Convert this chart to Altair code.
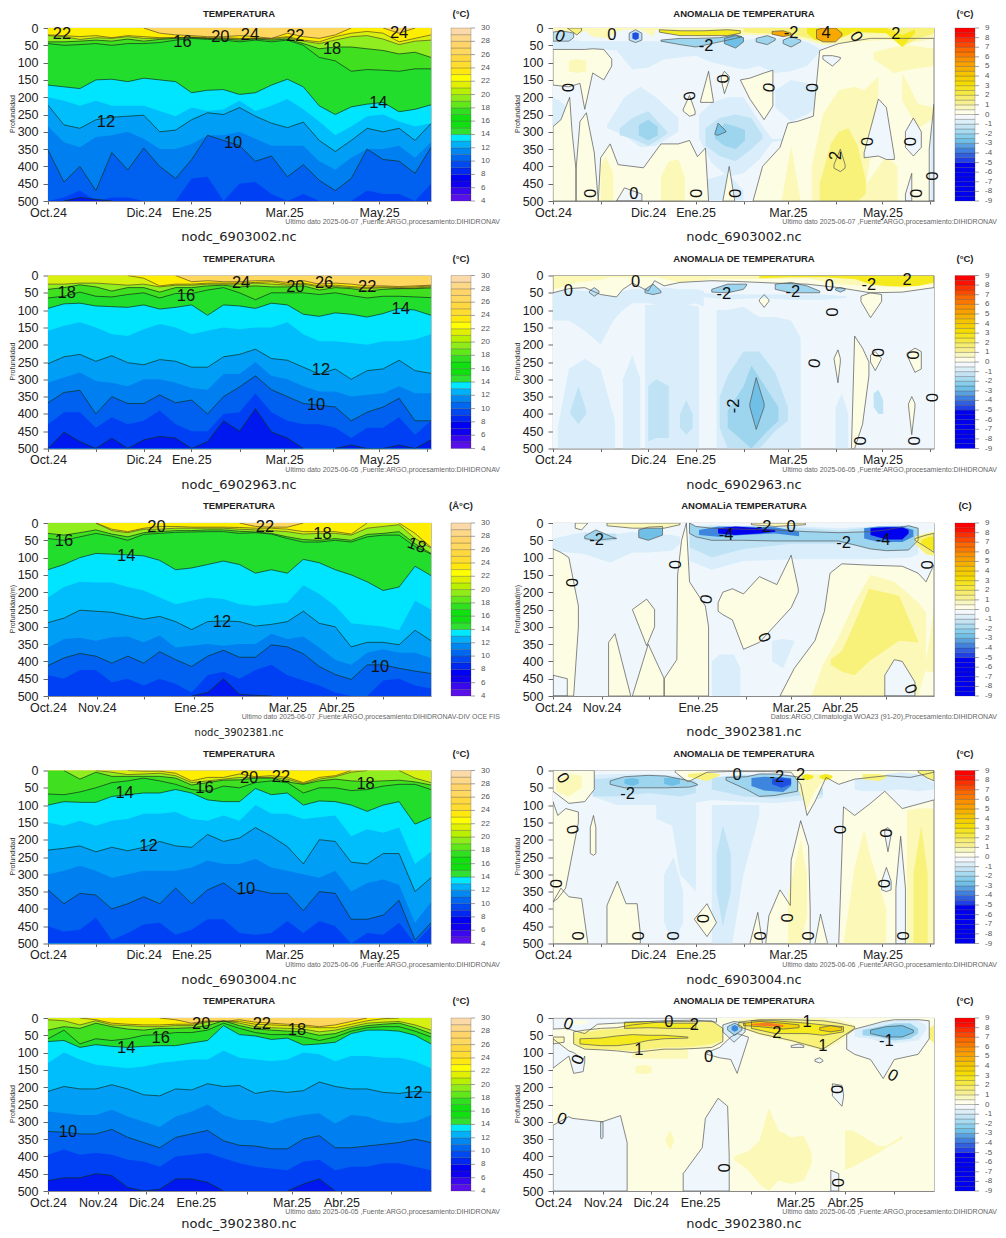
import altair as alt
import pandas as pd

FONT = "Liberation Sans"
KS = list(range(25))

# --- temperature panels: isotherm depth (m) at 25 time steps (1 step = 10 days)
LEVELS = [24, 22, 20, 18, 16, 14, 13, 12, 11, 10, 9, 8]
LEVEL_COLOR = ["#ffee00", "#d8f010", "#90ee20", "#40e020", "#22dd2c", "#00e5ff",
               "#00bdfb", "#009ef5", "#0080f0", "#0060f0", "#0040f5", "#0018f0"]
BASE_WARM = "#ffd75e"
CONTOURS = [24, 22, 20, 18, 16, 14, 12, 10, 8]

P1_ISO = [
 [0,0,0,0,0,0,0,15,20,22,25,25,22,25,30,15,25,30,20,0,0,0,15,0,0],
 [20,22,25,22,28,22,25,28,28,26,28,28,30,30,30,25,35,40,25,15,10,15,40,30,20],
 [22,25,33,28,30,25,30,30,28,27,30,30,32,30,32,28,38,45,35,25,22,32,48,38,35],
 [40,40,38,35,38,32,38,33,30,28,30,32,35,32,35,32,45,60,55,55,60,65,75,70,85],
 [45,50,48,45,50,45,45,42,35,30,33,35,40,35,40,35,50,85,95,125,120,122,125,118,118],
 [165,170,175,150,148,155,145,150,155,187,180,178,192,187,165,148,170,225,250,228,220,215,242,235,222],
 [200,210,225,210,225,225,225,240,255,230,240,235,210,240,225,205,235,270,310,285,255,250,270,285,275],
 [223,280,290,265,258,255,252,300,295,265,245,250,230,255,275,288,272,325,357,325,290,300,290,325,276],
 [285,330,345,315,310,300,320,350,350,335,310,310,300,320,340,340,340,385,410,375,350,350,340,375,330],
 [353,445,400,470,360,410,347,400,435,380,310,325,340,385,370,430,395,440,470,435,350,380,385,420,345],
 [500,490,470,500,490,490,500,500,500,435,430,500,450,445,480,500,480,500,500,500,470,480,480,500,450],
 [500,500,490,495,500,500,500,500,500,500,500,500,500,500,500,500,500,500,500,500,500,500,500,500,500],
]
P2_ISO = [
 [0,0,0,0,0,0,0,0,0,18,15,18,18,15,15,20,15,25,22,25,30,30,32,30,28],
 [0,0,0,0,0,0,8,30,25,25,22,22,22,20,18,25,22,30,28,32,35,33,35,33,30],
 [25,25,22,22,25,28,25,33,28,28,25,25,25,22,25,28,25,33,32,35,38,35,38,36,33],
 [40,35,27,33,45,35,35,48,35,35,30,28,33,30,33,33,30,42,35,38,45,40,38,38,36],
 [65,60,48,60,62,55,50,65,52,52,42,35,50,70,50,50,50,55,50,58,65,60,60,62,64],
 [95,82,80,88,90,92,85,97,92,85,115,85,88,95,80,85,112,118,108,112,120,110,95,100,115],
 [160,145,135,150,170,175,155,140,150,170,160,150,155,150,150,135,170,190,190,195,200,190,190,185,170],
 [255,235,228,248,232,252,258,243,248,265,265,235,228,213,240,245,265,285,270,300,275,270,245,275,283],
 [310,295,280,305,310,320,300,300,310,325,330,285,285,250,290,300,320,335,335,350,345,340,320,340,340],
 [368,338,332,400,350,370,370,345,368,360,400,350,322,290,330,350,370,375,380,420,395,380,355,420,420],
 [430,395,395,440,410,430,420,390,430,450,450,400,395,340,395,420,430,430,440,470,440,440,410,460,420],
 [500,453,480,500,470,500,475,465,470,500,480,420,450,385,452,470,500,500,500,490,500,500,490,500,475],
]
P3_ISO = [
 [0,0,0,0,0,0,0,0,0,0,0,0,0,10,12,12,0,0,0,0,0,0,0,0,0],
 [0,0,0,0,18,25,15,10,10,12,12,12,13,15,15,18,25,25,25,32,0,0,0,30,70],
 [0,0,0,0,22,28,18,18,15,15,15,15,18,20,22,25,32,30,30,35,15,10,5,45,72],
 [30,35,28,20,32,40,28,25,22,22,20,20,24,26,30,40,48,50,45,50,33,30,25,60,88],
 [45,50,40,30,38,50,33,30,27,26,25,25,30,28,32,45,55,55,50,55,40,35,35,68,90],
 [135,120,100,88,90,92,95,108,135,130,120,110,120,145,135,145,105,115,135,150,170,195,185,125,152],
 [215,185,170,172,172,185,195,215,235,225,215,220,235,240,235,230,180,205,240,290,295,300,310,225,250],
 [288,275,252,255,258,268,278,270,285,308,285,283,285,298,293,285,255,290,300,358,345,345,352,310,340],
 [360,335,332,340,330,328,345,325,360,355,350,355,350,350,320,335,328,360,395,410,375,365,375,375,390],
 [412,390,377,385,405,385,405,372,395,415,385,368,388,388,352,358,378,415,438,452,410,410,420,428,435],
 [440,450,425,425,460,450,470,450,465,490,440,430,450,425,410,440,455,470,490,500,500,455,450,470,478],
 [500,500,500,500,500,500,500,500,500,500,490,450,495,498,500,500,500,500,500,500,500,500,500,500,500],
]
P4_ISO = [
 [0,0,0,0,0,0,0,0,0,0,0,0,0,0,0,0,0,0,0,0,0,0,0,0,0],
 [0,0,0,0,0,0,2,2,8,30,20,20,10,18,15,20,35,20,15,0,0,0,0,0,0],
 [0,0,0,0,5,12,10,8,15,35,30,25,20,20,20,25,38,25,18,5,0,0,0,22,35],
 [0,0,25,5,17,17,17,17,22,42,35,28,27,22,22,33,40,30,25,30,32,30,28,33,42],
 [68,70,62,50,35,30,22,30,40,55,60,45,50,35,30,35,65,50,50,58,55,45,40,40,55],
 [100,90,92,92,75,70,65,65,55,65,85,90,90,52,70,65,100,88,90,100,118,100,90,155,135],
 [150,160,145,160,145,140,125,125,120,140,145,130,145,100,125,125,140,135,130,190,170,180,165,270,235],
 [230,225,218,235,222,232,222,205,218,222,185,205,195,165,190,220,270,200,205,265,270,240,240,350,310],
 [300,290,275,290,310,300,290,290,290,280,260,270,270,255,280,290,300,310,290,350,325,315,330,440,380],
 [345,385,355,360,400,385,365,385,340,385,345,325,358,345,355,355,405,350,355,430,430,418,375,490,440],
 [450,465,460,425,490,470,445,440,475,460,430,430,470,475,470,435,470,435,450,500,470,475,440,500,450],
 [500,500,500,500,500,500,500,500,500,500,500,500,500,500,500,500,500,500,500,500,500,500,500,500,500],
]
P5_ISO = [
 [0,0,0,0,0,0,0,0,5,15,8,10,5,12,15,18,20,25,20,10,0,0,0,0,0],
 [0,0,0,5,15,18,20,20,18,18,10,10,10,18,20,22,25,28,28,18,8,2,0,0,0],
 [5,8,20,8,20,22,25,25,22,22,12,8,15,25,28,30,32,40,35,25,15,12,10,20,35],
 [35,25,30,15,25,32,35,30,30,28,22,8,22,32,35,38,40,50,45,30,22,18,15,28,45],
 [60,35,75,60,65,60,50,48,42,42,35,15,30,42,48,48,55,65,55,38,28,25,25,38,55],
 [68,65,85,77,82,85,82,80,80,72,65,22,48,52,62,58,78,75,70,45,35,35,38,50,75],
 [130,100,120,135,140,145,140,130,125,120,120,95,115,120,125,120,100,105,125,110,110,115,115,125,145],
 [212,198,205,205,193,205,222,225,205,208,190,198,195,218,210,215,210,185,198,205,205,215,218,212,215],
 [270,275,280,280,265,285,300,315,285,270,250,280,295,295,305,290,280,275,305,280,285,300,305,300,280],
 [328,330,335,335,322,345,360,375,345,335,325,355,368,370,378,378,350,340,375,375,370,365,360,350,360],
 [395,380,395,390,395,410,415,430,400,395,390,405,420,430,435,440,415,410,440,430,430,420,420,430,440],
 [470,462,462,450,455,490,500,495,465,465,475,500,500,500,500,500,480,465,500,500,500,500,500,500,500],
]

# contour labels: text, time step, depth, angle
P1_LAB = [("22",.88,16,0),("16",8.43,40,0),("20",10.8,26,0),("24",12.65,21,0),("22",15.5,24,0),("18",17.8,60,0),("24",22,15,0),("14",20.7,216,0),("12",3.63,271,0),("10",11.6,332,0)]
P2_LAB = [("18",1.17,52,0),("24",12.1,21,0),("16",8.64,60,0),("20",15.5,33,0),("26",17.3,23,0),("22",20,33,0),("14",22.1,98,0),("12",17.1,273,0),("10",16.8,374,0)]
P3_LAB = [("16",1,51,0),("20",6.8,12,0),("22",13.6,12,0),("18",17.2,33,0),("18",23.1,65,20),("14",4.9,95,0),("12",10.9,285,0),("10",20.8,416,0)]
P4_LAB = [("20",12.6,23,0),("22",14.6,19,0),("16",9.8,50,0),("14",4.8,65,0),("18",19.9,38,0),("12",6.3,218,0),("10",12.4,343,0)]
P5_LAB = [("20",9.6,16,0),("22",13.4,16,0),("18",15.6,34,0),("16",7.06,58,0),("14",4.9,86,0),("12",22.9,218,0),("10",1.25,329,0)]

# tick steps and labels
TICKS_A = [0,3.03,6,8.98,12,14.8,17.85,20.75,23.75]
TLAB_A = ["Oct.24","","Dic.24","Ene.25","","Mar.25","","May.25",""]
TICKS_B = [0,3.06,6.03,9.12,12.18,15,18.06,21]
TLAB_B = ["Oct.24","Nov.24","","Ene.25","","Mar.25","Abr.25",""]
TICKS_C = [0,3.12,6.15,9.27,12.45,15.27,18.39,21.48]
TLAB_C = ["Oct.24","Nov.24","Dic.24","Ene.25","","Mar.25","Abr.25",""]

# anomaly colours
AC = dict(w="#eff7fd", n1="#d9eefa", n2="#bfe3f5", n3="#9dd5ef", n4="#6fbfe6", n5="#3d85dd",
          n6="#1e4fe0", n7="#0000f0", p0="#fdfde3", p1="#fbf8b8", p2="#f8f27a", p3="#f5ea1e",
          p4="#f5d000", p5="#f8a800", p6="#f57a20")

# anomaly patches: colour key, time steps, upper depth, lower depth, outlined
R1_B = [
 ("w",[0,24],[0,0],[500,500],0),
 ("n1",[0,.8,1.2,2,3,4,5,6,7,8,9,10,11,12,13,14,15,16,16.8],[30,30,35,38,38,38,38,38,38,38,35,35,35,35,30,30,30,40,60],[60,60,60,60,62,65,120,115,90,85,80,100,110,120,110,130,125,110,70],0),
 ("n1",[0,.4,.9],[200,210,230],[320,340,300],0),
 ("n1",[3.4,4.5,5.5,6.5,7.9],[280,200,170,200,260],[290,310,345,340,300],0),
 ("n2",[4.2,5,6,6.6,7.2],[290,260,240,270,300],[310,320,340,325,305],0),
 ("n3",[5.4,6,6.6],[280,265,285],[310,325,310],0),
 ("n1",[9.2,10,11,12,13,13.8,14.5],[250,215,200,200,270,320,320],[320,390,430,420,380,330,325],0),
 ("n2",[9.6,10.5,11.5,12.5,13.2],[290,260,250,260,310],[340,370,385,350,320],0),
 ("n3",[10.2,10.8,11.5,12.1],[310,275,285,295],[320,340,350,325],0),
 ("n4",[10.2,10.4,10.9],[305,275,298],[308,310,300],1),
 ("n1",[14,15,16,16.6],[180,150,160,170],[230,270,250,230],0),
 ("n1",[9.6,10.3,11,12],[440,430,420,470],[500,500,500,500],0),
 ("p0",[0,1,1.7,2,2.5,3.2,3.7],[62,62,62,62,60,62,90],[165,170,160,235,130,150,110],1),
 ("p1",[1,1.5,2.1],[95,90,95],[125,130,125],0),
 ("p0",[0,.5,1.05,1.2,1.45],[285,265,200,300,410],[500,500,500,500,500],1),
 ("p0",[1.45,1.7,2.1,2.6,2.85],[410,270,245,360,500],[500,500,500,500,500],1),
 ("p0",[2.85,3,3.6,4.1,5.7,6.8,7.9,8.6,9.1,9.6,9.8],[500,375,335,395,404,335,335,325,372,347,500],[500,500,500,500,500,500,500,500,500,500,500],1),
 ("w",[4,4.5,5.6],[500,462,480],[500,500,500],1),
 ("p1",[3,3.3,3.8],[400,370,420],[500,500,500],0),
 ("p1",[6.8,7.3,7.9,8.3],[430,385,380,430],[500,500,500,500],0),
 ("p0",[10.7,11.1,11.45],[500,400,500],[500,500,500],1),
 ("p0",[9.3,9.8,10.1],[210,125,210],[215,215,215],1),
 ("p0",[10.6,10.8,11.1],[140,125,140],[150,190,150],1),
 ("p0",[11.8,12.4,13.3,13.85],[150,145,130,122],[150,205,265,225],1),
 ("p0",[8.2,8.6,8.95],[235,195,240],[240,255,250],1),
 ("p0",[12.6,13.2,14.3,14.8,15.4,16.4,16.8,18,20,22,24],[500,400,345,275,270,255,65,45,30,30,30],[500,500,500,500,500,500,500,500,500,500,500],1),
 ("p1",[14.4,15,15.6],[500,340,500],[500,500,500],0),
 ("p1",[16.3,17,18,19,19.6,20.5],[400,250,180,170,180,140],[500,500,500,500,500,190],0),
 ("p1",[20.2,21.5,22.5,24],[70,55,50,60],[90,130,120,110],0),
 ("p1",[22,23,24],[130,220,230],[210,290,260],0),
 ("p1",[19.6,21,21.7],[460,370,400],[500,500,500],0),
 ("p2",[16.8,17.5,18,18.6,19.2,19.7],[450,335,300,290,340,440],[500,500,500,500,500,480],0),
 ("p2",[17.7,18.1,18.4],[395,350,395],[405,415,405],1),
 ("w",[19.6,20.5,21,21.5],[360,205,230,370],[375,370,380,380],1),
 ("w",[22.2,22.7,23.2],[300,260,300],[345,370,345],1),
 ("w",[17,17.6,18.1],[80,80,85],[90,110,90],1),
 ("w",[22.2,22.6],[480,420],[500,500],1),
 ("w",[23.7,24],[350,220],[500,500],1),
 ("n1",[23.8,24],[300,270],[500,500],0),
 ("p1",[0,1,1.7,2,2.5,3.5,4,4.5,5.5,6.3,6.5,7,9,12,14,16,17,19,21,23,24],[0]*21,[8,12,15,8,25,30,10,5,5,25,5,15,25,20,20,35,50,40,35,40,30],0),
 ("p2",[.9,1.5,1.8],[0,0,0],[0,20,8],1),
 ("p3",[6.7,8,9.5,11,11.8],[5,8,8,5,8],[12,22,22,22,15],1),
 ("p2",[12,13,15,16,17,17.5,18,19,20,21,22,23,24],[0]*13,[12,15,18,28,40,45,30,15,15,15,55,30,15],0),
 ("p3",[16,16.5,17.5,18.3,19,21,22,22.8],[0,0,0,0,0,0,20,5],[15,35,40,25,10,15,55,15],0),
 ("p5",[13.8,14.5,15],[10,8,15],[18,25,20],1),
 ("p5",[16.6,17,17.8,18.2],[5,0,0,15],[30,40,40,22],1),
 ("n2",[0,.5,1,1.3],[12,8,12,15],[38,38,38,28],1),
 ("n2",[4.8,5.2,5.6],[15,5,15],[35,42,35],1),
 ("n6",[5,5.2,5.4],[15,12,15],[30,35,30],0),
 ("n3",[6.8,8,9,10.5,11.5,11.9],[35,30,30,28,20,25],[38,48,55,40,30,25],1),
 ("n4",[10.8,11.5,12],[30,22,28],[45,58,40],1),
 ("n3",[12.8,13.5,14],[30,22,30],[40,48,35],1),
 ("n3",[14.5,15,15.6],[35,25,35],[45,55,40],1),
]
R2_B = [
 ("w",[0,24],[0,0],[500,500],0),
 ("n1",[0,1,2,3,3.8,4.4,5,6,7,8,9,9.5],[30,40,45,40,45,45,40,40,35,40,40,45],[130,130,160,200,130,100,80,80,90,90,80,90],0),
 ("n1",[.3,1,2,3,3.9],[440,270,240,270,420],[500,500,500,500,500],0),
 ("n1",[4.4,5,5.5],[300,230,300],[500,500,500],0),
 ("n1",[5.8,6.5,7.5,8.5,9.2],[85,85,85,85,90],[500,500,500,500,500],0),
 ("n2",[1.1,1.6,2.1],[390,320,390],[400,430,400],0),
 ("n2",[6,6.5,7.3],[320,300,320],[480,470,470],0),
 ("n2",[8,8.4,8.8],[400,360,400],[440,460,440],0),
 ("n1",[10.3,11,12,13,14,15,15.6],[100,100,90,120,120,130,180],[500,500,500,500,500,500,500],0),
 ("n2",[10.5,11,12,13,14,14.8],[350,290,220,220,280,380],[440,500,500,500,450,420],0),
 ("n3",[11,12,12.5,13.5,14.2],[390,320,260,330,380],[440,480,500,450,420],0),
 ("n4",[12.4,12.8,13.3],[370,295,370],[380,445,380],1),
 ("n1",[17.8,18.2,18.6],[380,340,400],[500,500,500],0),
 ("n2",[20.2,20.5,20.8],[340,330,360],[380,400,400],0),
 ("p0",[18.8,19,19.5,19.9],[500,175,210,250],[500,500,430,290],1),
 ("p0",[17.7,17.95,18.1],[240,215,240],[240,310,250],1),
 ("p0",[20,20.3,20.7],[230,220,240],[250,275,240],1),
 ("p0",[22.3,22.8,23.2],[225,210,220],[230,280,270],1),
 ("p0",[22.4,22.6,22.8],[370,350,370],[380,460,380],1),
 ("p0",[13,13.3,13.6],[70,55,70],[75,92,75],1),
 ("p0",[19.4,20,20.7],[60,50,55],[75,122,75],1),
 ("p0",[0,1,2,3,4,4.4,5,6,6.4,7,8,10,12,14,16,18,20,22,24],[0]*19,[50,38,35,55,62,40,22,45,15,30,20,15,18,22,25,35,50,48,35],1),
 ("p1",[0,1.5,3,3.6,6.6,8,10,12,14,16,18,20,22,24],[0]*14,[40,20,12,5,5,20,10,10,10,8,25,30,35,25],0),
 ("p3",[13,15,17,19,20,21,22,23,24],[0]*9,[8,5,5,10,25,30,32,30,20],0),
 ("n2",[2.3,2.6,2.9],[45,35,45],[50,60,50],1),
 ("n3",[5.8,6.3,6.8],[40,25,45],[50,55,50],1),
 ("n3",[10,11,12,12.2],[40,25,25,25],[48,50,40,28],1),
 ("n3",[14,15,16,16.8],[25,20,30,45],[40,50,50,50],1),
 ("n3",[17.8,18.1,18.4],[38,35,38],[42,48,42],1),
 ("n1",[8,9,11,13,15,17,18.5],[50,50,55,55,55,55,60],[60,60,70,65,70,70,65],0),
]
R3_B = [
 ("w",[0,24],[0,0],[500,500],0),
 ("n1",[0,2,3.6,5,6,7.5,8],[45,25,35,25,30,35,40],[80,90,115,85,85,80,60],0),
 ("n1",[8.6,10,12,15,18,20,22.5,23],[10,5,10,8,15,10,5,25],[110,135,110,105,105,105,100,90],0),
 ("n2",[8.6,10,12,15,18,20,22.5],[15,10,15,12,22,12,8],[70,100,75,60,60,70,78],0),
 ("n2",[2,3,4],[30,30,30],[50,55,50],0),
 ("n3",[2,2.7,3.7,4],[38,20,40,45],[45,50,45,45],1),
 ("n4",[5.4,6,6.9],[20,12,10],[42,50,35],1),
 ("n3",[8.6,9,10,12,14,16,18,20,21,22.4,23],[0,10,15,18,20,25,28,25,20,8,15],[30,40,50,50,52,52,52,75,80,78,50],1),
 ("n5",[9.2,10.4,12,14,15.5],[20,10,10,12,25],[35,40,35,30,38],0),
 ("n7",[10.4,11.5,13,14],[15,10,15,20],[30,35,30,25],0),
 ("n5",[19.6,20.5,22,22.7],[15,10,10,20],[45,55,55,40],0),
 ("n7",[20,21,22,22.4],[15,12,12,20],[35,48,48,30],0),
 ("p0",[1.4,1.8,2.2],[0,0,0],[15,20,0],1),
 ("p1",[3.4,5,7,8],[0,0,0,0],[8,15,15,5],1),
 ("p1",[12.5,14,15.9],[0,0,0],[5,10,5],1),
 ("p0",[0,.5,1,1.3,1.6],[75,85,100,170,240],[500,500,500,500,300],1),
 ("w",[0,.9],[440,450],[500,500],1),
 ("p0",[3.5,3.9,4.9],[345,320,500],[500,500,500],1),
 ("p0",[5,5.9,6.4],[250,220,250],[250,355,300],1),
 ("p0",[5,6,7],[500,350,450],[500,500,500],1),
 ("p0",[7,7.8,7.85,8.1,8.4,8.6,9.6,9.8],[450,395,150,50,0,170,240,300],[500,500,500,500,500,500,500,500],1),
 ("p0",[10.4,10.7,11.3,12,13,14.1,15,15.45],[230,200,190,205,155,178,93,190],[255,265,280,365,345,290,245,200],1),
 ("p0",[14.3,15.2,16.5,17.1,17.45,18.2,20,22,23,23.5,24],[500,420,340,255,145,118,122,125,145,170,120],[500,500,500,500,500,500,500,500,500,500,500],1),
 ("p1",[16.3,17,18,19,20,21.5,23,23.5],[500,410,330,230,150,170,230,260],[500,500,500,500,500,500,500,420],0),
 ("p2",[17.5,18.2,19,19.9,21.8,23],[395,370,290,190,210,340],[410,430,440,400,340,345],0),
 ("p1",[23.5,24],[400,250],[430,430],0),
 ("w",[20.9,21.5,22,22.8],[440,395,400,460],[500,500,500,500],1),
 ("n1",[10,10.5,11.4,11.8],[400,380,380,420],[500,500,500,500],0),
 ("n1",[13.8,14.5,15.2],[340,335,340],[400,420,345],0),
 ("p3",[22.8,23.5,24],[45,35,30],[50,70,85],1),
 ("p2",[22.8,23.5,24],[40,30,25],[60,90,95],0),
 ("p3",[23.2,23.7,24],[50,40,40],[60,75,80],0),
]
R4_B = [
 ("w",[0,24],[0,0],[500,500],0),
 ("n1",[2.5,4,6,8,10,12,14,16,17],[12,10,10,15,25,15,15,45,60],[75,100,100,100,85,90,95,85,80],0),
 ("n1",[6.5,7.5,8,9],[90,90,90,90],[140,160,300,350],0),
 ("n1",[10,10.5,11.3,12,13],[100,100,100,100,100],[500,500,500,300,130],0),
 ("n2",[10.3,10.7,11.2],[240,160,240],[350,450,350],0),
 ("n1",[7,7.6,8.2],[300,250,350],[440,500,440],0),
 ("n2",[2.5,4,6,8,9],[25,20,20,20,30],[75,75,65,75,65],0),
 ("n3",[3.6,4.5,6,7.1,8.6,9.1],[30,18,14,16,30,40],[40,50,50,50,48,42],1),
 ("n4",[4.5,5,5.4],[25,22,25],[38,45,38],0),
 ("n4",[7,7.5,8],[22,20,25],[38,45,38],0),
 ("n2",[10,12,14,16,17],[20,12,15,20,50],[55,75,80,70,70],0),
 ("n3",[10.9,12.2,13,14,15.4],[20,18,10,10,18],[28,55,75,72,60],1),
 ("n5",[12.5,13.3,14.5,15],[22,18,20,22],[45,58,62,45],0),
 ("n6",[13.8,14.4,15],[25,20,25],[40,50,40],0),
 ("n1",[19,19.5,20.5,22,23,24],[10,5,5,5,20,35],[55,60,60,55,60,55],0),
 ("p0",[0,1,2,2.6],[0,0,0,0],[60,95,90,55],1),
 ("p1",[.2,1,1.8],[30,10,15],[60,75,50],0),
 ("p0",[0,.3,.8,1.6],[90,130,110,120],[380,370,340,150],1),
 ("p0",[0,.5,1,1.8,2.2],[380,340,365,370,500],[500,500,500,500,500],1),
 ("p0",[2.35,2.55,2.7],[165,130,165],[240,245,240],1),
 ("p0",[3.4,4.05,4.6,5.3,5.5],[390,320,385,385,470],[500,500,500,500,500],1),
 ("p0",[8.9,9.7,10.3],[430,385,440],[430,480,440],1),
 ("p0",[12.4,12.9,13.2],[500,410,500],[500,500,500],1),
 ("p0",[13.4,13.6,14.3,14.95,15,15.6,16.1,16.2],[500,420,345,390,260,145,220,400],[500,500,500,500,500,500,500,500],1),
 ("p1",[14.8,15.6,16],[360,200,300],[500,500,420],0),
 ("p0",[16.5,16.85,17.3],[500,415,500],[500,500,500],1),
 ("p0",[7.7,8.5,9.7,11,13.5,15,15.6,16,16.5,17.2,18,19,20,21,22.5,24],[0]*16,[5,33,5,3,3,5,40,130,90,20,40,25,20,15,20,5],1),
 ("p2",[8.5,9.7,10.5],[10,5,10],[18,30,15],0),
 ("p1",[15.5,16,16.5,17.2],[5,10,10,10],[60,110,60,20],0),
 ("p0",[18,18.3,19,20,20.9,22,24],[500,105,130,95,60,110,85],[500,500,500,500,500,500,500],1),
 ("p1",[18.3,19,19.6,20,21],[500,280,170,250,400],[500,500,500,500,500],0),
 ("w",[20.9,21.1,21.3],[170,165,175],[185,235,185],1),
 ("w",[20.7,21,21.3],[320,280,320],[345,350,345],1),
 ("w",[21.6,21.9,22.2],[340,190,340],[500,500,500],1),
 ("p1",[22.3,23,24],[115,110,110],[500,500,500],0),
 ("p2",[22.7,23.2,23.6],[300,160,300],[500,500,500],0),
 ("p3",[15.7,16,16.4],[15,10,15],[22,28,22],0),
 ("p3",[16.8,17.2,17.6],[15,10,15],[22,28,22],0),
 ("p2",[19.5,20.5,21],[10,10,15],[25,30,22],0),
 ("p2",[23,23.6,24],[0,0,0],[5,22,30],1),
 ("n1",[21,22,23,23.6],[10,5,10,22],[60,40,30,35],0),
]
R5_B = [
 ("p0",[0,24],[0,0],[500,500],0),
 ("w",[0,1,1.2,3.1,4.25,4.67],[310,285,290,300,282,360],[500,500,500,500,500,500],1),
 ("n1",[3,3.05,3.15],[300,300,300],[345,350,345],1),
 ("w",[8.2,9.4,9.6,10.4,11,11.1],[450,375,290,232,255,400],[500,500,500,500,500,500],1),
 ("p1",[11.4,12.3,13,13.6,14.2,15,15.8,16.3],[400,385,355,260,325,345,340,390],[410,440,480,500,470,480,470,420],0),
 ("p1",[18.4,18.9,20.5,21,22],[325,325,370,370,340],[440,430,390,375,350],0),
 ("p1",[7.1,7.4,7.6],[350,325,350],[360,380,360],0),
 ("p1",[5.2,5.7,6.2],[140,135,140],[160,162,160],0),
 ("p1",[5,6,7.5,8.5],[85,85,85,85],[115,118,118,118],0),
 ("w",[0,1,1.3,1.9,2],[60,95,100,120,110],[145,110,160,155,125],1),
 ("w",[0,.8,2,2.8,4,6,7,9,10.3],[0,0,0,0,0,0,0,0,0],[32,30,45,18,15,10,8,6,12],1),
 ("p0",[.9,1.3,2.2],[8,5,8],[18,20,18],0),
 ("w",[9.7,10.5,11.2,11.6,12.3],[100,85,55,45,55],[105,115,120,160,60],1),
 ("n1",[10.7,11.4,12.1],[20,10,15],[40,70,40],1),
 ("n3",[11,11.45,11.9],[25,15,25],[35,50,35],1),
 ("n5",[11.25,11.45,11.65],[25,20,25],[35,40,35],0),
 ("w",[18.5,19,20,20.8,21.5,23,23.7],[48,32,20,10,5,5,8],[90,105,120,175,120,105,60],1),
 ("n1",[19,20,21,22,23,23.5],[35,20,10,5,8,20],[55,60,75,70,65,35],0),
 ("n3",[19.5,20.5,21.5,22.5,23],[35,25,15,15,30],[50,55,65,60,45],0),
 ("n4",[20,21,22,22.7],[35,25,22,35],[45,55,55,42],1),
 ("w",[17.6,18.2,18.3],[190,195,220],[225,255,230],1),
 ("w",[17.5,18],[440,450],[500,500],1),
 ("w",[15,15.5,15.8],[80,75,80],[85,85,85],1),
 ("w",[16.5,16.8,17],[120,115,122],[125,130,125],1),
 ("p1",[0,.7],[55,55],[75,70],1),
 ("p1",[1.3,2,3,4,5,6,7,8,9,10,10.7],[40,35,30,28,20,15,10,10,10,8,30],[75,90,92,95,100,95,90,90,88,85,68],1),
 ("p2",[1.3,2,3,4,5,6,7,8,9,10,10.7],[45,42,35,32,28,20,15,12,12,10,30],[72,88,90,92,95,90,85,85,82,75,65],0),
 ("p3",[1.7,3,4,5,6,7,8.5],[60,58,52,48,50,50,55],[75,80,80,75,65,60,58],1),
 ("p3",[4.5,6,7.5,9],[12,10,15,15],[30,28,30,30],1),
 ("p1",[11.7,13,15,17,18,19],[5,0,0,0,5,20],[25,50,70,95,70,35],0),
 ("p2",[11.7,13,15,17,18,19],[12,5,5,8,15,25],[25,45,65,90,60,30],1),
 ("p3",[12.5,14,16,17,18.3],[8,8,15,20,25],[30,45,45,50,40],1),
 ("p4",[12,13,14.5,15.5],[15,10,15,20],[22,25,32,28],1),
 ("p6",[12.5,13.5,14.5],[17,13,20],[20,24,26],0),
 ("p4",[16.8,17.5,18.2],[28,22,28],[35,40,35],1),
 ("p2",[23.7,24],[30,20],[60,72],0),
]

R1_LAB = [("0",.45,24,20),("0",3.7,20,0),("-2",9.65,53,0),("-2",15,14,0),("4",17.2,14,0),("2",21.6,16,0),("0",19.1,25,60),("0",.88,172,90),("0",8.55,197,80),("0",10.65,147,85),("0",13.55,172,100),("0",16.25,172,90),("0",2.28,478,90),("0",8.95,478,90),("0",11.4,478,90),("0",5.1,480,0),("0",19.7,328,90),("0",22.4,328,90),("0",22.8,478,90),("0",23.8,428,90),("2",17.85,368,270)]
R2_LAB = [("0",.96,45,0),("0",5.2,18,0),("0",17.4,31,0),("-2",10.76,53,0),("-2",15.1,48,0),("-2",19.9,28,0),("2",22.3,13,0),("-2",11.4,377,270),("0",17.5,106,90),("0",16.5,254,280),("0",20.4,223,90),("0",22.6,230,90),("0",19.3,478,90),("0",22.7,478,90),("0",23.8,353,90)]
R3_LAB = [("-2",2.75,48,0),("-4",10.9,36,0),("-2",13.3,13,0),("0",15,11,0),("-2",18.3,58,0),("-4",20.8,48,0),("0",7.6,120,90),("0",1.13,172,90),("0",9.6,220,100),("0",13.3,331,70),("0",23.5,121,90),("0",22.5,480,70)]
R4_LAB = [("0",.6,22,60),("-2",4.7,69,0),("0",11.6,12,0),("-2",14.1,19,0),("2",15.6,14,0),("0",1.2,171,80),("0",.1,327,90),("0",5.3,478,90),("0",7.5,478,90),("0",9.4,428,90),("0",13,478,90),("0",14.7,426,90),("0",16,478,90),("0",18,171,90),("0",20.9,181,90),("0",20.8,327,90),("0",22,478,90),("0",1.5,478,90)]
R5_LAB = [("0",.96,18,20),("0",7.3,12,0),("2",8.9,21,0),("2",14.1,42,0),("1",16,13,0),("1",5.4,93,0),("1",17,82,0),("-1",21,67,0),("0",9.8,113,0),("0",1.5,119,110),("0",.55,292,20),("0",10.7,433,90),("0",17.8,206,90),("0",17.9,476,90),("0",21.4,167,30)]

# colour bars, bottom to top
T_BAR = ["#5a10e8","#3a08ee","#1000f0","#0000f5","#0028f0","#0048f0","#0068f0","#0088f0","#00b0f8","#00e8ff",
         "#30e030","#10e010","#10e010","#30e020","#60e818","#90ec18","#b8f000","#e0f000","#ffff00","#ffe810",
         "#ffdc30","#ffd840","#ffd860","#ffd468","#fdd888","#fbd9a8"]
A_BAR = ["#0000f0"]*8 + ["#2040e8","#3060e0","#4080e0","#5aa0e0","#70bfe6","#88cdec","#a8daf0","#c4e4f4","#dceef8","#f4f8fc",
         "#fdfde8","#f9f7c0","#f8f090","#f5ec70","#f5e840","#f5e420","#f5dc00","#f5d000","#f5c400","#f5b000",
         "#f8a000","#fa9000","#fb7800","#fc6800","#fc4800","#fd3000","#ff1000","#ff0000"]

PW_L, PW_R, PH, BW = 383, 381, 173, 20
BAR1_W, BAR2_W = 122, 40


def axes(ticks, tlabs):
    parts = "".join(f"datum.value=={t}?'{l}':" for t, l in zip(ticks, tlabs))
    xa = alt.Axis(values=ticks, labelExpr=parts + "''", title=None, grid=False, tickColor="#666", domainColor="#888",
                  tickSize=3, labelFontSize=12.5, labelColor="#222", labelFont=FONT, labelPadding=2,
                  labelOverlap=False, labelFlush=False)
    ya = alt.Axis(values=list(range(0, 501, 50)), title=None, grid=False, tickColor="#666", domainColor="#888",
                  tickSize=5, labelFontSize=12.5, labelColor="#222", labelFont=FONT, labelPadding=5,
                  labelOverlap=False, labelSeparation=0, labelBound=False, labelFlush=False)
    return xa, ya


def scales():
    return (alt.Scale(domain=[0, 24], nice=False, zero=False), alt.Scale(domain=[500, 0], nice=False, zero=False))


def note(txt, x, y, size, color="#222", weight="normal", align="center", font=FONT):
    return alt.Chart(pd.DataFrame({"t": [txt]})).mark_text(
        font=font, fontSize=size, color=color, fontWeight=weight, align=align, baseline="middle"
    ).encode(text="t:N", x=alt.value(x), y=alt.value(y))


def finish(area_rows, line_rows, labels, ticks, tlabs, title, footer, name, w, name_size=13, name_y=209,
           ylabel="Profundidad", title_y=-17, foot_x=452):
    xs, ys = scales()
    xa, ya = axes(ticks, tlabs)
    adf = pd.DataFrame(area_rows, columns=["id", "x", "y", "y2", "c"])
    ldf = pd.DataFrame(line_rows, columns=["id", "o", "x", "y", "c", "sw"])
    area = alt.Chart(adf).mark_area(interpolate="linear", clip=True, orient="vertical").encode(
        x=alt.X("x:Q", scale=xs, axis=xa), y=alt.Y("y:Q", scale=ys, axis=ya), y2="y2:Q", detail="id:N",
        color=alt.Color("c:N", scale=None))
    line = alt.Chart(ldf).mark_line(interpolate="linear", clip=True, strokeWidth=0.7).encode(
        x=alt.X("x:Q", scale=xs, axis=xa), y=alt.Y("y:Q", scale=ys, axis=ya), detail="id:N", order="o:Q",
        color=alt.Color("c:N", scale=None))
    tdf = pd.DataFrame(labels, columns=["t", "x", "y", "a"])
    text = alt.Chart(tdf).mark_text(font=FONT, fontSize=16.5, color="#111", baseline="middle", align="center").encode(
        x=alt.X("x:Q", scale=xs, axis=xa), y=alt.Y("y:Q", scale=ys, axis=ya), text="t:N",
        angle=alt.Angle("a:Q", scale=None))
    ytitle = alt.Chart(pd.DataFrame({"t": [ylabel]})).mark_text(
        font=FONT, fontSize=7, color="#333", angle=270, align="center", baseline="middle"
    ).encode(text="t:N", x=alt.value(-35), y=alt.value(86))
    layers = [area, line, text,
              note(title, 191, title_y, 9.5, "#222", "bold"),
              note(name, 191, name_y, name_size, "#222", font="DejaVu Sans"),
              note(footer, foot_x, 194, 7, "#666", align="right"),
              ytitle]
    return alt.layer(*layers).properties(width=w, height=PH)


def left_panel(iso, labels, ticks, tlabs, footer, name, **kw):
    area, lines = [("base", 0, 0, 500, BASE_WARM), ("base", 24, 0, 500, BASE_WARM)], []
    for lv, col, vals in zip(LEVELS, LEVEL_COLOR, iso):
        for k, v in zip(KS, vals):
            area.append((f"L{lv}", k, v, 500, col))
        if lv in CONTOURS:
            c = "#5a4a20" if lv >= 20 else "#10301a"
            for k, v in zip(KS, vals):
                near = [vals[j] for j in (k - 1, k, k + 1) if 0 <= j < 25]
                show = any(0 < n < 500 for n in near)
                lines.append((f"L{lv}", k, k, v if show else None, c, 1))
    return finish(area, lines, labels, ticks, tlabs, "TEMPERATURA", footer, name, PW_L, **kw)


def right_panel(blobs, labels, ticks, tlabs, title, footer, name, **kw):
    area, lines = [], []
    for i, (c, xs, tops, bots, outline) in enumerate(blobs):
        bid = f"B{i:03d}"
        for x, t, b in zip(xs, tops, bots):
            area.append((bid, x, t, b, AC[c]))
        if outline:
            n = 0
            for x, t in zip(xs, tops):
                lines.append((bid, n, x, t, "#555555", 1)); n += 1
            for x, b in reversed(list(zip(xs, bots))):
                lines.append((bid, n, x, b, "#555555", 1)); n += 1
            lines.append((bid, n, xs[0], tops[0], "#555555", 1))
    return finish(area, lines, labels, ticks, tlabs, title, footer, name, PW_R, foot_x=444, **kw)


def bar(colors, lo, step, ticks, unit, x0, w, title_y=-17):
    rows = [(lo + i * step, lo + (i + 1) * step, c) for i, c in enumerate(colors)]
    df = pd.DataFrame(rows, columns=["a", "b", "c"])
    hi = lo + len(colors) * step
    sc = alt.Scale(domain=[lo, hi], nice=False, zero=False)
    rect = alt.Chart(df).mark_rect(stroke="#333333", strokeWidth=0.25).encode(
        y=alt.Y("a:Q", scale=sc, axis=None), y2="b:Q",
        x=alt.value(x0), x2=alt.value(x0 + BW), color=alt.Color("c:N", scale=None))
    tdf = pd.DataFrame({"v": ticks, "s": [str(t) for t in ticks]})
    rule = alt.Chart(tdf).mark_rule(color="#777", strokeWidth=0.7).encode(
        y=alt.Y("v:Q", scale=sc, axis=None), x=alt.value(x0 + BW), x2=alt.value(x0 + BW + 4))
    text = alt.Chart(tdf).mark_text(font=FONT, fontSize=8, color="#555", align="left", baseline="middle").encode(
        y=alt.Y("v:Q", scale=sc, axis=None), x=alt.value(x0 + BW + 10), text="s:N")
    return alt.layer(rect, rule, text, note(unit, x0 + 10, title_y, 9.5, "#222", "bold")).properties(
        width=w, height=PH, view=alt.ViewConfig(stroke=None))


TBAR_T = list(range(4, 31, 2))
ABAR_T = list(range(-9, 10))
F = "Ultimo dato {} ,Fuente:ARGO,procesamiento:DIHIDRONAV"
AT = "ANOMALIA DE TEMPERATURA"


def row(lp, lunit, rp, runit, title_y=-17):
    return [lp, bar(T_BAR, 4, 1, TBAR_T, lunit, 20, BAR1_W, title_y), rp,
            bar(A_BAR, -9, .5, ABAR_T, runit, 21, BAR2_W, title_y)]


cells = []
cells += row(left_panel(P1_ISO, P1_LAB, TICKS_A, TLAB_A, F.format("2025-06-07"), "nodc_6903002.nc", title_y=-14.5), "(°C)",
             right_panel(R1_B, R1_LAB, TICKS_A, TLAB_A, AT, F.format("2025-06-07"), "nodc_6903002.nc", title_y=-14.5), "(°C)", -14.5)
cells += row(left_panel(P2_ISO, P2_LAB, TICKS_A, TLAB_A, F.format("2025-06-05"), "nodc_6902963.nc"), "(°C)",
             right_panel(R2_B, R2_LAB, TICKS_A, TLAB_A, AT, F.format("2025-06-05"), "nodc_6902963.nc"), "(°C)")
cells += row(left_panel(P3_ISO, P3_LAB, TICKS_B, TLAB_B, F.format("2025-06-07") + "-DIV OCE FIS", "nodc_3902381.nc", name_size=10, name_y=210, ylabel="Profundidad(m)"), "(Å°C)",
             right_panel(R3_B, R3_LAB, TICKS_B, TLAB_B, "ANOMALiA TEMPERATURA", "Datos:ARGO,Climatologia WOA23 (91-20),Procesamiento:DIHIDRONAV", "nodc_3902381.nc", ylabel="Profundidad(m)"), "(C)")
cells += row(left_panel(P4_ISO, P4_LAB, TICKS_A, TLAB_A, F.format("2025-06-06"), "nodc_6903004.nc"), "(°C)",
             right_panel(R4_B, R4_LAB, TICKS_A, TLAB_A, AT, F.format("2025-06-06"), "nodc_6903004.nc"), "(°C)")
cells += row(left_panel(P5_ISO, P5_LAB, TICKS_C, TLAB_C, F.format("2025-06-05"), "nodc_3902380.nc", name_y=206), "(°C)",
             right_panel(R5_B, R5_LAB, TICKS_C, TLAB_C, AT, F.format("2025-06-05"), "nodc_3902380.nc", name_y=206), "(°C)")

chart = alt.concat(*cells, columns=4, spacing={"row": 74.5, "column": 0}, bounds="flush", align="each").properties(
    padding={"left": 0, "top": 0, "right": 0, "bottom": 1}, background="white"
).configure_view(stroke="#999999", strokeWidth=0.8)

chart.save("out.html", embed_options={"renderer": "svg", "actions": False})
